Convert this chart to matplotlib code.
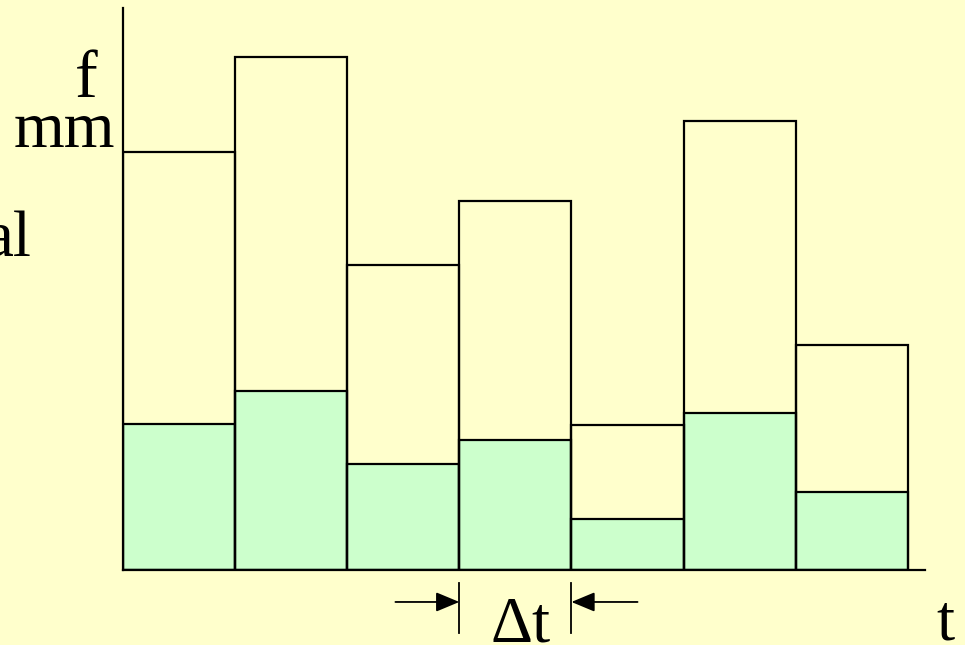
import numpy as np
import matplotlib.pyplot as plt

# interval values (mm), one bar per time step
f_total = [41.8, 51.3, 30.5, 36.9, 14.5, 44.9, 22.5]
f_part = [14.6, 17.9, 10.6, 13.0, 5.1, 15.7, 7.8]
steps = np.arange(len(f_total))

bg = '#FFFFCC'
green = '#CCFFCC'
plt.rcParams['font.family'] = ['Liberation Serif', 'DejaVu Serif']

fig = plt.figure(figsize=(9.65, 6.45), dpi=100, facecolor=bg)
ax = fig.add_axes([0.1275, 0.1163, 0.831, 0.871])
ax.set_facecolor(bg)

ax.bar(steps, f_part, width=1.0, align='edge', color=green,
       edgecolor='black', linewidth=1.6)
ax.bar(steps, f_total, width=1.0, align='edge', fill=False,
       edgecolor='black', linewidth=1.6)

ax.set_xlim(0, 7.154)
ax.set_ylim(0, 56.2)
for s in ['top', 'right']:
    ax.spines[s].set_visible(False)
for s in ['left', 'bottom']:
    ax.spines[s].set_linewidth(1.6)
ax.set_xticks([])
ax.set_yticks([])

# delta t marker under the 4th interval
x0, x1 = 3, 4
for x in (x0, x1):
    ax.plot([x, x], [-1.3, -6.3], color='black', lw=1.3, clip_on=False)
arrow = dict(arrowstyle='-|>,head_length=0.6,head_width=0.25', color='black',
             lw=1.3, mutation_scale=24, shrinkA=0, shrinkB=0)
ax.annotate('', xy=(x0, -3.2), xytext=(x0 - 0.57, -3.2),
            arrowprops=arrow, annotation_clip=False)
ax.annotate('', xy=(x1, -3.2), xytext=(x1 + 0.59, -3.2),
            arrowprops=arrow, annotation_clip=False)

fs = 47
fig.text(521 / 965, 1 - 642 / 645, '\u0394t', fontsize=fs, ha='center', va='baseline')
fig.text(945 / 965, 1 - 640 / 645, 't', fontsize=fs, ha='center', va='baseline')
fig.text(98 / 965, 1 - 97 / 645, 'f', fontsize=fs + 2, ha='right', va='baseline')
fig.text(115 / 965, 1 - 147 / 645, 'mm', fontsize=fs, ha='right', va='baseline')
fig.text(32 / 965, 1 - 257 / 645, 'al', fontsize=fs, ha='right', va='baseline')

fig.savefig('out.png', dpi=100, facecolor=bg)
